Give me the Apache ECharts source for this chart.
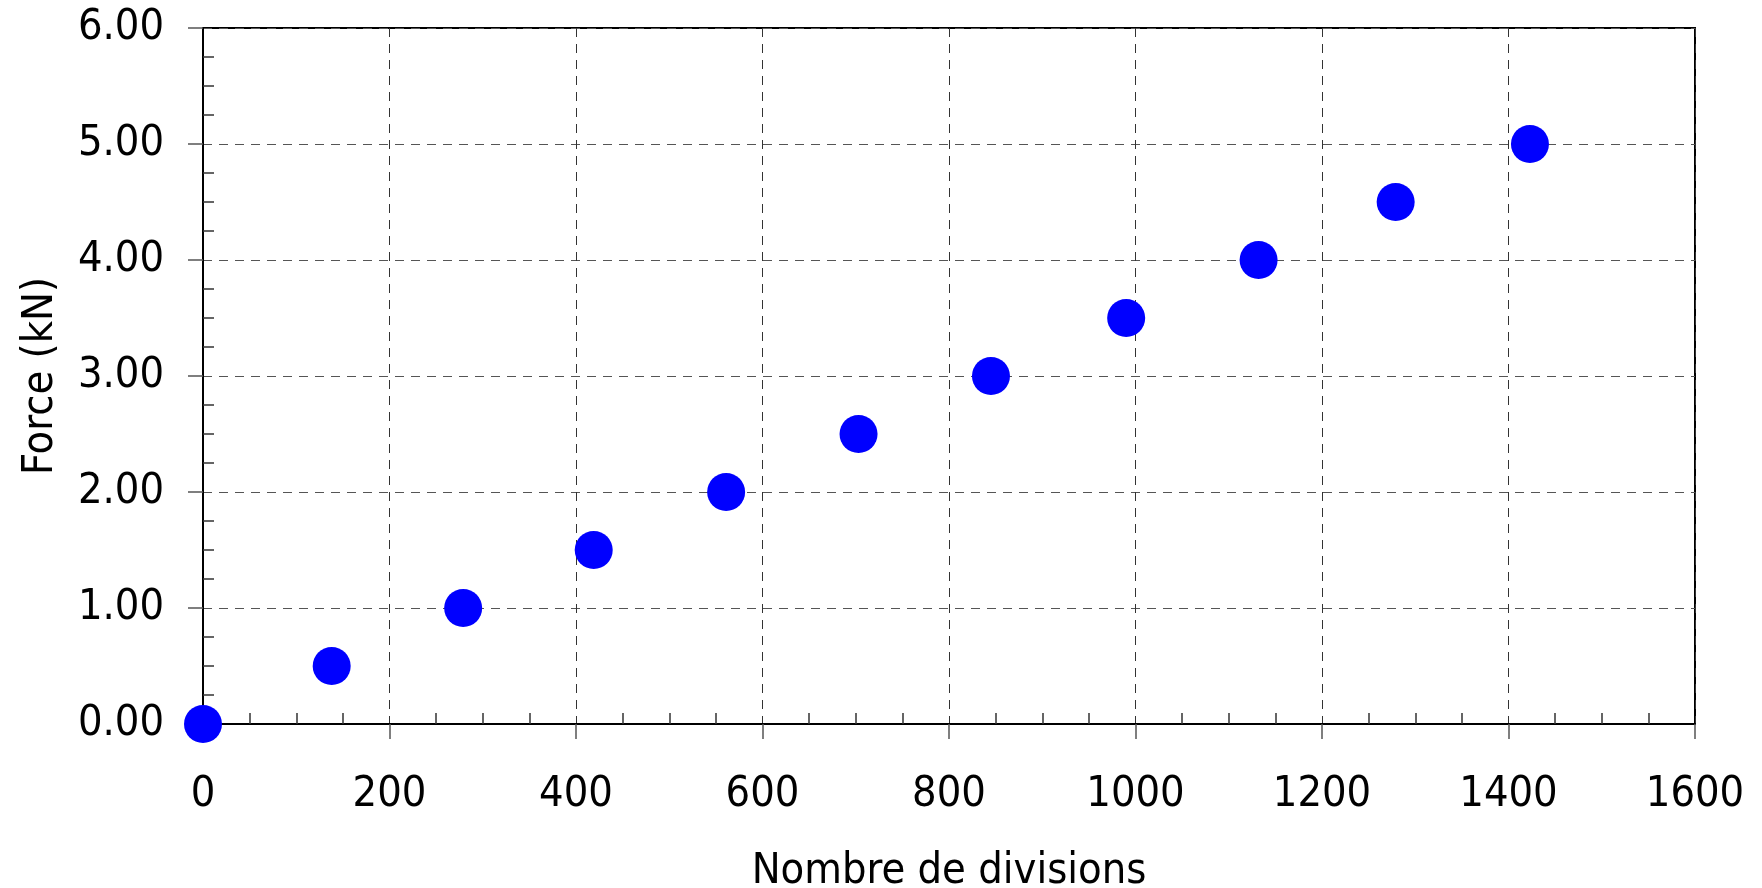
<!DOCTYPE html>
<html>
<head>
<meta charset="utf-8">
<script src="https://cdn.jsdelivr.net/npm/echarts@6/dist/echarts.min.js"></script>
<style>
html,body{margin:0;padding:0;background:#fff;}
#chart{width:1762px;height:888px;}
</style>
</head>
<body>
<div id="chart"></div>
<script>
// Data
const divisions = [0, 138, 279, 419, 561, 703, 845, 990, 1132, 1279, 1423];
const forceKN = [0.0, 0.5, 1.0, 1.5, 2.0, 2.5, 3.0, 3.5, 4.0, 4.5, 5.0];
const xTitle = 'Nombre de divisions';
const yTitle = 'Force (kN)';

const points = divisions.map((d, i) => [d, forceKN[i]]);
const FONT = '"DejaVu Sans Condensed", "DejaVu Sans", sans-serif';

const chart = echarts.init(document.getElementById('chart'), null, {renderer: 'canvas'});
chart.setOption({
  animation: false,
  backgroundColor: '#ffffff',
  grid: {
    left: 203, right: 67, top: 28, bottom: 164,
    containLabel: false, outerBoundsMode: 'none',
    show: true, borderColor: '#000', borderWidth: 2, backgroundColor: 'transparent'
  },
  xAxis: {
    type: 'value', min: 0, max: 1600, interval: 200,
    name: xTitle, nameLocation: 'middle', nameGap: 126,
    nameTextStyle: {fontFamily: FONT, fontSize: 43, color: '#000'},
    axisLine: {show: true, onZero: false, lineStyle: {color: '#000', width: 2}},
    axisTick: {show: true, inside: false, length: 15, lineStyle: {color: '#555', width: 1.5}},
    minorTick: {show: true, splitNumber: 4, length: -11, lineStyle: {color: '#333', width: 1.5}},
    axisLabel: {margin: 49, fontFamily: FONT, fontSize: 43, color: '#000',
      formatter: v => String(v)},
    splitLine: {show: true, lineStyle: {color: '#333', width: 1, type: [9, 7]}}
  },
  yAxis: {
    type: 'value', min: 0, max: 6, interval: 1,
    name: yTitle, nameLocation: 'middle', nameGap: 141, nameRotate: 90,
    nameTextStyle: {fontFamily: FONT, fontSize: 43, color: '#000'},
    axisLine: {show: true, onZero: false, lineStyle: {color: '#000', width: 2}},
    axisTick: {show: true, inside: false, length: 15, lineStyle: {color: '#555', width: 1.5}},
    minorTick: {show: true, splitNumber: 4, length: -11, lineStyle: {color: '#333', width: 1.5}},
    axisLabel: {margin: 39, fontFamily: FONT, fontSize: 43, color: '#000',
      formatter: v => v.toFixed(2)},
    splitLine: {show: true, lineStyle: {color: '#555', width: 1, type: [9, 7]}}
  },
  series: [{
    type: 'scatter',
    data: points,
    symbol: 'circle',
    symbolSize: 38,
    clip: false,
    itemStyle: {color: '#0000ff', opacity: 1}
  }]
});
</script>
</body>
</html>
